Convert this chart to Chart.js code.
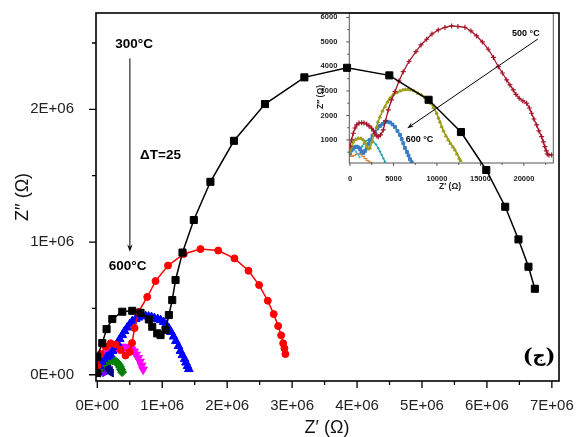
<!DOCTYPE html>
<html>
<head>
<meta charset="utf-8">
<script src="https://cdn.jsdelivr.net/npm/chart.js@4.4.1/dist/chart.umd.min.js"></script>
<style>
  html, body { margin: 0; padding: 0; background: #fff; }
  #wrap { position: relative; width: 576px; height: 437px; overflow: hidden; }
  #insetChart { position: absolute; left: 300px; top: 0; }
  #mainChart { position: absolute; left: 0; top: 0; }
</style>
</head>
<body>
<div id="wrap">
  <canvas id="insetChart" width="270" height="195"></canvas>
  <canvas id="mainChart" width="576" height="437"></canvas>
</div>
<script>
// main panel, Z' and Z'' in MΩ, 300 °C down to 600 °C
const t300Re = [0, 0, 0.077, 0.143, 0.231, 0.385, 0.538, 0.666, 0.794, 0.846, 0.923, 0.974, 1.051, 1.102, 1.154, 1.205, 1.312, 1.486, 1.742, 2.105, 2.582, 3.189, 3.846, 4.497, 5.102, 5.6, 5.99, 6.282, 6.486, 6.64, 6.738];
const t300Im = [0.013, 0.136, 0.239, 0.344, 0.42, 0.475, 0.482, 0.467, 0.417, 0.362, 0.312, 0.299, 0.337, 0.45, 0.563, 0.714, 0.921, 1.166, 1.454, 1.763, 2.04, 2.241, 2.313, 2.256, 2.072, 1.829, 1.543, 1.266, 1.02, 0.814, 0.648];

const t325Re = [0, 0.051, 0.128, 0.205, 0.282, 0.358, 0.435, 0.497, 0.535, 0.574, 0.635, 0.769, 0.897, 1.089, 1.332, 1.589, 1.862, 2.112, 2.328, 2.492, 2.625, 2.717, 2.785, 2.831, 2.862, 2.882, 2.897];
const t325Im = [0.066, 0.156, 0.211, 0.237, 0.228, 0.186, 0.145, 0.171, 0.239, 0.352, 0.472, 0.586, 0.706, 0.823, 0.91, 0.947, 0.936, 0.877, 0.784, 0.676, 0.558, 0.457, 0.367, 0.297, 0.237, 0.199, 0.156];

const t350Re = [0, 0.035, 0.066, 0.1, 0.14, 0.17, 0.2, 0.235, 0.27, 0.31, 0.345, 0.385, 0.42, 0.46, 0.5, 0.54, 0.59, 0.635, 0.69, 0.745, 0.79, 0.835, 0.88, 0.93, 0.975, 1.02, 1.06, 1.1, 1.135, 1.175, 1.21, 1.25, 1.28, 1.31, 1.345, 1.365, 1.39, 1.41];
const t350Im = [0.02, 0.066, 0.096, 0.118, 0.133, 0.141, 0.156, 0.179, 0.209, 0.239, 0.269, 0.299, 0.329, 0.356, 0.382, 0.405, 0.42, 0.431, 0.442, 0.442, 0.439, 0.435, 0.427, 0.42, 0.412, 0.397, 0.378, 0.352, 0.322, 0.288, 0.254, 0.216, 0.179, 0.148, 0.118, 0.092, 0.066, 0.043];

const t375Re = [0.02, 0.043, 0.066, 0.097, 0.128, 0.158, 0.189, 0.22, 0.255, 0.297, 0.335, 0.374, 0.412, 0.451, 0.489, 0.528, 0.566, 0.597, 0.628, 0.658, 0.682, 0.705];
const t375Im = [0.043, 0.073, 0.096, 0.122, 0.141, 0.16, 0.175, 0.186, 0.197, 0.205, 0.209, 0.211, 0.21, 0.207, 0.201, 0.19, 0.175, 0.152, 0.126, 0.099, 0.069, 0.039];

const t400Re = [0.02, 0.043, 0.066, 0.097, 0.128, 0.158, 0.197, 0.235, 0.274, 0.305, 0.328, 0.351, 0.366, 0.382];
const t400Im = [0.028, 0.05, 0.069, 0.084, 0.096, 0.103, 0.109, 0.109, 0.103, 0.092, 0.077, 0.058, 0.039, 0.02];

const t425Re = [0.012, 0.035, 0.066, 0.105, 0.143, 0.174, 0.197, 0.212];
const t425Im = [0.02, 0.043, 0.058, 0.066, 0.062, 0.05, 0.032, 0.013];

const t450Re = [0.01, 0.03, 0.055, 0.08, 0.1, 0.115];
const t450Im = [0.015, 0.032, 0.042, 0.04, 0.028, 0.012];

const t475Re = [0.005, 0.02, 0.04, 0.05];
const t475Im = [0.01, 0.02, 0.015, 0.005];

const xTicks = [0, 1, 2, 3, 4, 5, 6, 7];
const yTicks = [0, 1, 2];

// inset, Z' and Z'' in Ω, 500 °C down to 600 °C
const i500Re = [0, 172, 379, 575, 770, 1034, 1345, 1609, 1920, 2184, 2494, 2701, 2874, 3103, 3253, 3506, 3828, 4080, 4402, 4770, 5172, 5632, 6127, 6782, 7586, 8161, 8816, 9425, 10149, 10920, 11689, 12414, 13218, 13908, 14563, 15230, 15897, 16494, 17046, 17529, 18012, 18391, 18770, 19080, 19460, 19885, 20310, 20632, 20885, 21150, 21460, 21724, 22034, 22241, 22413, 22586, 22678, 22873, 23183];
const i500Im = [726, 1000, 1273, 1489, 1612, 1693, 1705, 1693, 1652, 1571, 1477, 1367, 1273, 1163, 1134, 1204, 1408, 1775, 2224, 2632, 2970, 3407, 3786, 4202, 4602, 4876, 5108, 5324, 5488, 5590, 5651, 5630, 5598, 5447, 5243, 4998, 4700, 4366, 3990, 3733, 3448, 3244, 3040, 2856, 2701, 2591, 2497, 2305, 2089, 1856, 1612, 1367, 1134, 918, 726, 551, 428, 388, 388];

const i525Re = [0, 172, 379, 632, 954, 1264, 1529, 1724, 1920, 2126, 2299, 2529, 2759, 3069, 3218, 3448, 3736, 4023, 4310, 4598, 4943, 5368, 5747, 6092, 6379, 6701, 7011, 7356, 7816, 8218, 8621, 9000, 9310, 9598, 9966, 10172, 10345, 10540, 10747, 11034, 11299, 11552, 11839, 12069, 12299, 12563, 12701];
const i525Im = [510, 714, 918, 1020, 1069, 1061, 1000, 877, 726, 632, 673, 918, 1204, 1530, 1734, 1938, 2183, 2358, 2550, 2701, 2836, 2929, 2999, 3040, 3060, 3068, 3040, 2999, 2905, 2836, 2734, 2632, 2489, 2326, 2089, 1897, 1734, 1542, 1367, 1163, 1000, 857, 714, 592, 428, 253, 163];

const i550Re = [0, 172, 379, 575, 770, 977, 1149, 1322, 1529, 1724, 1920, 2126, 2299, 2586, 2874, 3161, 3448, 3736, 4023, 4310, 4598, 4885, 5172, 5460, 5747, 5943, 6127, 6322, 6552, 6724, 6897, 7092];
const i550Im = [457, 571, 661, 714, 726, 694, 620, 530, 457, 551, 661, 836, 1000, 1183, 1338, 1469, 1571, 1652, 1734, 1746, 1714, 1632, 1530, 1367, 1204, 1040, 865, 673, 510, 367, 212, 94];

const i575Re = [0, 230, 575, 862, 1149, 1379, 1609, 1839, 2103, 2414, 2678, 2989, 3253, 3448, 3644, 3851, 4023];
const i575Im = [510, 612, 714, 734, 661, 734, 857, 959, 1000, 979, 930, 816, 661, 530, 388, 245, 114];

const i600Re = [0, 230, 460, 770, 1034, 1264, 1529, 1782, 2011, 2241, 2471];
const i600Im = [388, 326, 367, 428, 449, 408, 326, 245, 163, 102, 61];

const i590Re = [0, 200, 450, 700, 900, 1100];
const i590Im = [550, 620, 600, 520, 420, 300];

const insetXTicks = [0, 5000, 10000, 15000, 20000];
const insetYTicks = [1000, 2000, 3000, 4000, 5000, 6000];

const FONT = "'Liberation Sans', Arial, sans-serif";

function pts(re, im) {
    return re.map((v, i) => ({ x: v, y: im[i] }));
}

function series(re, im, color, style, radius, extra) {
    return Object.assign({
        data: pts(re, im),
        showLine: true,
        borderColor: color,
        backgroundColor: color,
        borderWidth: 1.5,
        pointStyle: style,
        pointRadius: radius,
        pointBorderWidth: 1,
        pointBorderColor: color,
        pointBackgroundColor: color
    }, extra || {});
}

// frame box plus outward major/minor ticks
const frameTicks = {
    id: 'frameTicks',
    afterDraw(chart, args, o) {
        const { ctx, chartArea: a, scales: { x, y } } = chart;
        ctx.save();
        ctx.strokeStyle = o.color;
        ctx.lineWidth = o.frameWidth;
        ctx.strokeRect(a.left, a.top, a.right - a.left, a.bottom - a.top);
        ctx.lineWidth = o.tickWidth;
        ctx.beginPath();
        for (let v = o.xFirst; v <= x.max + 1e-9; v += o.xMinor) {
            const px = x.getPixelForValue(v);
            const major = Math.abs(v / o.xMajor - Math.round(v / o.xMajor)) < 1e-6;
            ctx.moveTo(px, a.bottom);
            ctx.lineTo(px, a.bottom + (major ? o.major : o.minor));
        }
        for (let v = o.yFirst; v <= y.max + 1e-9; v += o.yMinor) {
            const py = y.getPixelForValue(v);
            const major = Math.abs(v / o.yMajor - Math.round(v / o.yMajor)) < 1e-6;
            ctx.moveTo(a.left, py);
            ctx.lineTo(a.left - (major ? o.major : o.minor), py);
        }
        ctx.stroke();
        ctx.restore();
    }
};

// text labels, arrows and axis titles
const notes = {
    id: 'notes',
    afterDraw(chart, args, o) {
        const { ctx, scales: { x, y } } = chart;
        ctx.save();
        ctx.direction = 'ltr';
        ctx.fillStyle = '#000';
        ctx.strokeStyle = '#000';
        (o.texts || []).forEach(t => {
            ctx.font = t.font;
            ctx.textAlign = 'center';
            ctx.textBaseline = 'middle';
            ctx.fillText(t.text, x.getPixelForValue(t.x), y.getPixelForValue(t.y));
        });
        // panel letter: pieces drawn one by one so the parentheses keep their side
        if (o.panel) {
            const p = o.panel;
            ctx.textBaseline = 'middle';
            ctx.textAlign = 'left';
            let px = x.getPixelForValue(p.x);
            const py = y.getPixelForValue(p.y);
            const parts = [[p.open, p.parenFont, 0], [p.letter, p.letterFont, p.letterDy], [p.close, p.parenFont, 0]];
            const widths = parts.map(q => { ctx.font = q[1]; return ctx.measureText(q[0]).width; });
            px -= widths.reduce((s, w) => s + w, 0) / 2;
            parts.forEach((q, i) => {
                ctx.font = q[1];
                ctx.fillText(q[0], px, py + q[2]);
                px += widths[i];
            });
        }
        (o.arrows || []).forEach(ar => {
            const x1 = x.getPixelForValue(ar.x1), y1 = y.getPixelForValue(ar.y1);
            const x2 = x.getPixelForValue(ar.x2), y2 = y.getPixelForValue(ar.y2);
            const ang = Math.atan2(y2 - y1, x2 - x1);
            ctx.lineWidth = ar.width;
            ctx.beginPath();
            ctx.moveTo(x1, y1);
            ctx.lineTo(x2 - Math.cos(ang) * ar.head * 0.6, y2 - Math.sin(ang) * ar.head * 0.6);
            ctx.stroke();
            ctx.beginPath();
            ctx.moveTo(x2, y2);
            ctx.lineTo(x2 - ar.head * Math.cos(ang - 0.35), y2 - ar.head * Math.sin(ang - 0.35));
            ctx.lineTo(x2 - ar.head * 0.6 * Math.cos(ang), y2 - ar.head * 0.6 * Math.sin(ang));
            ctx.lineTo(x2 - ar.head * Math.cos(ang + 0.35), y2 - ar.head * Math.sin(ang + 0.35));
            ctx.closePath();
            ctx.fill();
        });
        (o.titles || []).forEach(t => {
            ctx.font = t.font;
            ctx.fillStyle = t.color;
            ctx.textAlign = 'center';
            ctx.textBaseline = 'middle';
            ctx.save();
            ctx.translate(t.px, t.py);
            ctx.rotate(t.rot || 0);
            ctx.fillText(t.text, 0, 0);
            ctx.restore();
        });
        ctx.restore();
    }
};

function expLabel(v) {
    return v === 0 ? '0E+00' : v + 'E+06';
}

new Chart(document.getElementById('insetChart'), {
    type: 'scatter',
    data: {
        datasets: [
            series(i500Re, i500Im, '#a3162a', 'cross', 2.5, { borderWidth: 1.3, pointBorderWidth: 1.2 }),
            series(i525Re, i525Im, '#9e9c1c', 'triangle', 1.8, { borderWidth: 1.6 }),
            series(i550Re, i550Im, '#3b7cc3', 'rect', 2, { borderWidth: 1.6 }),
            series(i575Re, i575Im, '#22a6a8', 'circle', 0.8, { borderWidth: 1.2 }),
            series(i590Re, i590Im, '#5cb4de', 'circle', 0.8, { borderWidth: 1.2 }),
            series(i600Re, i600Im, '#d88236', 'line', 2, { borderWidth: 1.2, borderDash: [2, 1] })
        ]
    },
    options: {
        responsive: false,
        animation: false,
        devicePixelRatio: 1,
        layout: { padding: { top: 13, right: 16.7, left: 0, bottom: 0 } },
        plugins: {
            legend: { display: false },
            tooltip: { enabled: false },
            frameTicks: { color: '#555', frameWidth: 1, tickWidth: 1, major: 3, minor: 2,
                xFirst: 0, xMinor: 2500, xMajor: 5000, yFirst: 500, yMinor: 500, yMajor: 1000 },
            notes: {
                texts: [
                    { text: '500 °C', x: 20230, y: 5353, font: 'bold 9px ' + FONT },
                    { text: '600 °C', x: 7988, y: 1028, font: 'bold 9px ' + FONT }
                ],
                arrows: [{ x1: 21609, y1: 5120, x2: 6586, y2: 1477, width: 1, head: 7 }],
                titles: [
                    { text: 'Z′ (Ω)', px: 150, py: 187, font: 'bold 8.5px ' + FONT, color: '#222' },
                    { text: 'Z′′ (Ω)', px: 21, py: 97, rot: -Math.PI / 2, font: 'bold 8.5px ' + FONT, color: '#222' }
                ]
            }
        },
        scales: {
            x: {
                type: 'linear', min: -80, max: 23380,
                grid: { display: false }, border: { display: false },
                afterBuildTicks: s => { s.ticks = insetXTicks.map(v => ({ value: v })); },
                afterFit: s => { s.height = 32; s.paddingLeft = 0; s.paddingRight = 0; },
                ticks: { autoSkip: false, maxRotation: 0, padding: 3, color: '#222', callback: v => String(v),
                    font: { family: FONT, size: 7.5, weight: 'bold' } }
            },
            y: {
                type: 'linear', min: 60, max: 6180,
                grid: { display: false }, border: { display: false },
                afterBuildTicks: s => { s.ticks = insetYTicks.map(v => ({ value: v })); },
                afterFit: s => { s.width = 49.3; s.paddingTop = 0; s.paddingBottom = 0; },
                ticks: { autoSkip: false, padding: 4, color: '#222', callback: v => String(v),
                    font: { family: FONT, size: 7.5, weight: 'bold' } }
            }
        }
    },
    plugins: [frameTicks, notes]
});

new Chart(document.getElementById('mainChart'), {
    type: 'scatter',
    data: {
        datasets: [
            series(t300Re, t300Im, '#000000', 'rect', 5),
            series(t325Re, t325Im, '#ff0000', 'circle', 3.5),
            series(t350Re, t350Im, '#0000ff', 'triangle', 5, { borderWidth: 1 }),
            series(t375Re, t375Im, '#ff00ff', 'triangle', 5, { borderWidth: 1, pointRotation: 180 }),
            series(t400Re, t400Im, '#008000', 'rectRot', 4.5, { borderWidth: 1 }),
            series(t425Re, t425Im, '#000080', 'triangle', 4.5, { borderWidth: 1, pointRotation: -90 }),
            series(t450Re, t450Im, '#8000ff', 'triangle', 4, { borderWidth: 1, pointRotation: 90 }),
            series(t475Re, t475Im, '#008080', 'star', 3.5, { borderWidth: 1 })
        ]
    },
    options: {
        responsive: false,
        animation: false,
        devicePixelRatio: 1,
        layout: { padding: { top: 13, right: 17, left: 0, bottom: 0 } },
        plugins: {
            legend: { display: false },
            tooltip: { enabled: false },
            frameTicks: { color: '#000', frameWidth: 1.6, tickWidth: 1.3, major: 7, minor: 4,
                xFirst: 0, xMinor: 0.5, xMajor: 1, yFirst: 0, yMinor: 0.5, yMajor: 1 },
            notes: {
                texts: [
                    { text: '300°C', x: 0.566, y: 2.492, font: 'bold 13.5px ' + FONT },
                    { text: 'ΔT=25', x: 0.974, y: 1.656, font: 'bold 13.5px ' + FONT },
                    { text: '600°C', x: 0.466, y: 0.814, font: 'bold 13.5px ' + FONT }
                ],
                panel: { x: 6.803, y: 0.126, open: '(', close: ')', letter: 'ج', letterDy: -2,
                    parenFont: "bold 21px 'DejaVu Serif', serif", letterFont: "bold 18px 'DejaVu Sans', sans-serif" },
                arrows: [{ x1: 0.502, y1: 2.384, x2: 0.502, y2: 0.927, width: 1, head: 8 }],
                titles: [
                    { text: 'Z′ (Ω)', px: 327, py: 428, font: '18px ' + FONT, color: '#111' },
                    { text: 'Z′′ (Ω)', px: 23, py: 197, rot: -Math.PI / 2, font: '18px ' + FONT, color: '#111' }
                ]
            }
        },
        scales: {
            x: {
                type: 'linear', min: -0.02, max: 7.11,
                grid: { display: false }, border: { display: false },
                afterBuildTicks: s => { s.ticks = xTicks.map(v => ({ value: v })); },
                afterFit: s => { s.height = 56; s.paddingLeft = 0; s.paddingRight = 0; },
                ticks: { autoSkip: false, maxRotation: 0, padding: 8, color: '#222', callback: expLabel,
                    font: { family: FONT, size: 15 } }
            },
            y: {
                type: 'linear', min: -0.047, max: 2.726,
                grid: { display: false }, border: { display: false },
                afterBuildTicks: s => { s.ticks = yTicks.map(v => ({ value: v })); },
                afterFit: s => { s.width = 96; s.paddingTop = 0; s.paddingBottom = 0; },
                ticks: { autoSkip: false, padding: 14, color: '#222', callback: expLabel,
                    font: { family: FONT, size: 15 } }
            }
        }
    },
    plugins: [frameTicks, notes]
});
</script>
</body>
</html>
